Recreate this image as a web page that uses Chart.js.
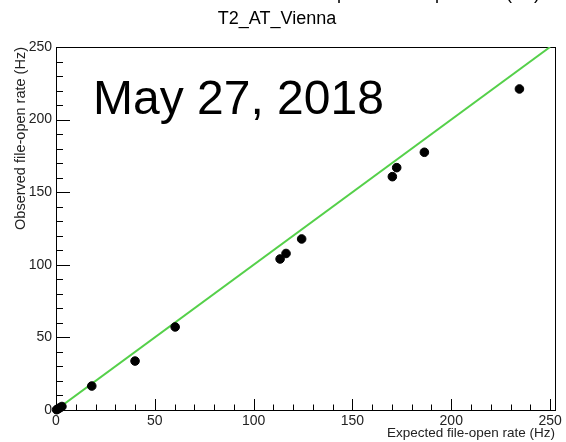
<!DOCTYPE html>
<html>
<head>
<meta charset="utf-8">
<script src="https://cdn.jsdelivr.net/npm/chart.js@4"></script>
<style>
  body { margin: 0; background: #fff; }
  canvas { display: block; }
</style>
</head>
<body>
<canvas id="myChart" width="566" height="442"></canvas>
<script>

// expected vs observed file-open rate (Hz), one point per day sample
const expected = [0.3, 1.0, 2.0, 3.0, 18.1, 40.0, 60.3, 113.4, 116.4, 124.3, 170.2, 172.4, 186.4, 234.5];
const observed = [0.2, 0.8, 1.6, 2.4, 16.5, 33.7, 57.2, 104.0, 107.8, 117.8, 160.7, 166.9, 177.5, 221.1];

// y = x reference line
const lineX = [0, 250];
const lineY = [0, 250];

const xTicks = [0, 50, 100, 150, 200, 250];
const yTicks = [0, 50, 100, 150, 200, 250];

const siteName = 'T2_AT_Vienna';
const dateLabel = 'May 27, 2018';

const fontFam = '"Liberation Sans", Arial, Helvetica, sans-serif';

const points = expected.map((x, i) => ({ x: x, y: observed[i] }));
const diag = lineX.map((x, i) => ({ x: x, y: lineY[i] }));

// ROOT-like frame, inside ticks and texts
const rootFrame = {
  id: 'rootFrame',
  beforeDatasetsDraw(chart) {
    const ctx = chart.ctx;
    const a = chart.chartArea;
    const xs = chart.scales.x, ys = chart.scales.y;
    ctx.save();
    ctx.strokeStyle = '#000';
    ctx.lineWidth = 1;
    ctx.strokeRect(Math.round(a.left) + 0.5, Math.round(a.top) + 0.5,
      Math.round(a.right - a.left), Math.round(a.bottom - a.top));
    ctx.beginPath();
    for (let v = 0; v <= 250; v += 10) {
      const px = Math.round(xs.getPixelForValue(v)) + 0.5;
      const len = v % 50 === 0 ? 11 : 5.5;
      ctx.moveTo(px, a.bottom);
      ctx.lineTo(px, a.bottom - len);
      const py = Math.round(ys.getPixelForValue(v)) + 0.5;
      const ylen = v % 50 === 0 ? 14 : 7;
      ctx.moveTo(a.left, py);
      ctx.lineTo(a.left + ylen, py);
    }
    ctx.stroke();
    ctx.restore();
  },
  afterDraw(chart) {
    const ctx = chart.ctx;
    ctx.save();
    ctx.fillStyle = '#000';
    ctx.textBaseline = 'alphabetic';
    ctx.textAlign = 'center';
    ctx.font = '18px ' + fontFam;
    ctx.fillText(siteName, 277, 24);
    // clipped header line above the title
    ctx.textAlign = 'right';
    ctx.fillText('Observed vs. expected file-open rate (Hz)', 540, -1);
    ctx.textAlign = 'left';
    ctx.font = '48px ' + fontFam;
    ctx.fillText(dateLabel, 93, 114);
    ctx.restore();
  }
};

const config = {
  type: 'scatter',
  data: {
    datasets: [{
      label: 'y = x',
      data: diag,
      showLine: true,
      borderColor: 'rgb(85, 208, 74)',
      borderWidth: 2,
      pointRadius: 0,
      order: 2
    }, {
      label: 'rate',
      data: points,
      backgroundColor: '#000',
      borderColor: '#000',
      pointRadius: 4.3,
      pointHoverRadius: 4.3,
      clip: false,
      order: 1
    }]
  },
  options: {
    responsive: false,
    devicePixelRatio: 1,
    animation: false,
    events: [],
    layout: { padding: { left: 0, right: 11, top: 47, bottom: 0 } },
    plugins: {
      legend: { display: false },
      tooltip: { enabled: false },
      title: { display: false }
    },
    scales: {
      x: {
        type: 'linear',
        min: 0,
        max: 252.5,
        grid: { display: false, drawTicks: false, tickLength: 0 },
        border: { display: false },
        afterBuildTicks: (s) => { s.ticks = xTicks.map(v => ({ value: v })); },
        afterFit: (s) => { s.height = 32; },
        ticks: {
          padding: 3,
          color: '#222',
          font: { family: fontFam, size: 14 },
          maxRotation: 0,
          autoSkip: false
        },
        title: {
          display: true,
          text: 'Expected file-open rate (Hz)',
          align: 'end',
          color: '#222',
          font: { family: fontFam, size: 13.5 },
          padding: { top: 0, bottom: 1 }
        }
      },
      y: {
        type: 'linear',
        min: 0,
        max: 250,
        grid: { display: false, drawTicks: false, tickLength: 0 },
        border: { display: false },
        afterBuildTicks: (s) => { s.ticks = yTicks.map(v => ({ value: v })); },
        afterFit: (s) => { s.width = 56; },
        ticks: {
          padding: 4,
          color: '#222',
          font: { family: fontFam, size: 14 },
          autoSkip: false
        },
        title: {
          display: true,
          text: 'Observed file-open rate (Hz)',
          align: 'end',
          color: '#222',
          font: { family: fontFam, size: 14.5 },
          padding: { top: 12, bottom: 0 }
        }
      }
    }
  },
  plugins: [rootFrame]
};

myChart = new Chart(
  document.getElementById('myChart'),
  config
);
</script>
</body>
</html>
